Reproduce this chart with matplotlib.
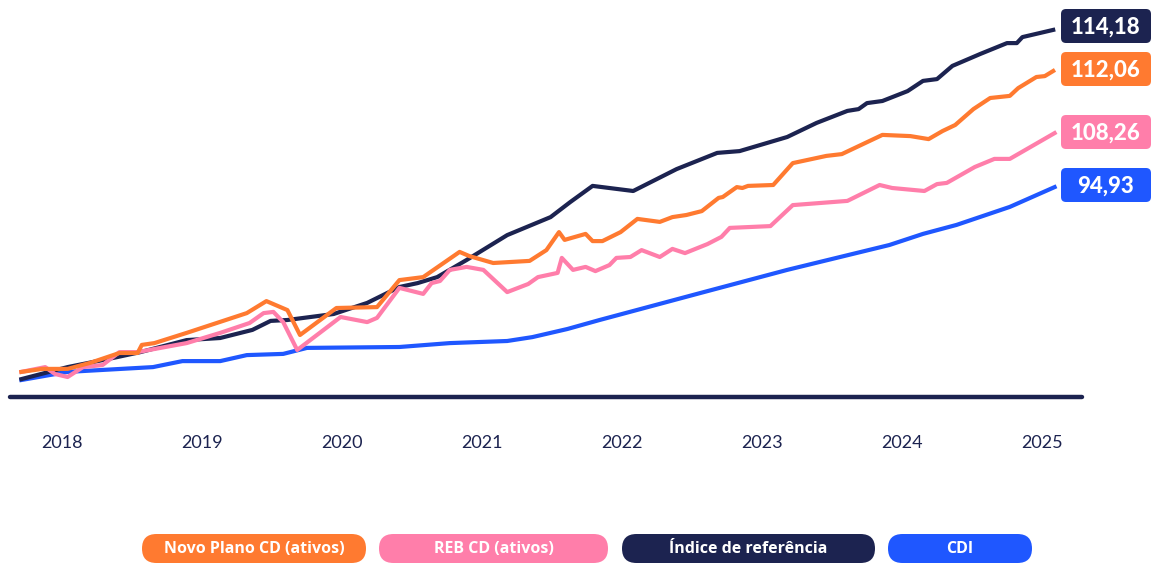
import matplotlib.pyplot as plt
from matplotlib.patches import FancyBboxPatch

# accumulated return (index)
ref_x = [2017.71, 2018.04, 2018.36, 2018.56, 2018.89, 2019.13, 2019.36, 2019.49, 2019.61, 2019.94,
         2020.18, 2020.41, 2020.54, 2020.68, 2020.89, 2021.18, 2021.49, 2021.63, 2021.79, 2022.08,
         2022.39, 2022.68, 2022.84, 2023.18, 2023.39, 2023.61, 2023.69, 2023.75, 2023.86, 2024.04,
         2024.15, 2024.25, 2024.36, 2024.56, 2024.75, 2024.82, 2024.86, 2025.08]
ref_y = [0.3, 4.3, 7.3, 9.3, 13.3, 14.0, 16.7, 19.7, 20.0, 22.0,
         25.7, 31.0, 32.3, 34.3, 40.0, 48.3, 54.3, 59.3, 64.7, 63.0,
         70.3, 75.7, 76.3, 81.0, 85.7, 89.7, 90.3, 92.3, 93.0, 96.3,
         99.7, 100.3, 104.7, 108.7, 112.3, 112.3, 114.3, 116.7]

novo_x = [2017.71, 2017.86, 2018.04, 2018.2, 2018.41, 2018.54, 2018.57, 2018.66, 2018.89, 2019.32,
          2019.46, 2019.61, 2019.7, 2019.96, 2020.25, 2020.41, 2020.58, 2020.84, 2020.91, 2021.08,
          2021.34, 2021.46, 2021.55, 2021.59, 2021.74, 2021.79, 2021.86, 2021.99, 2022.11, 2022.27,
          2022.36, 2022.46, 2022.57, 2022.69, 2022.72, 2022.82, 2022.86, 2022.9, 2023.08, 2023.22,
          2023.46, 2023.57, 2023.86, 2024.06, 2024.19, 2024.29, 2024.38, 2024.51, 2024.63, 2024.77,
          2024.83, 2024.96, 2025.02, 2025.08]
novo_y = [2.7, 3.7, 3.7, 5.7, 9.0, 9.0, 11.7, 12.3, 15.7, 22.3,
          26.3, 23.3, 15.0, 24.0, 24.3, 33.3, 34.3, 42.7, 41.3, 39.0,
          39.7, 43.3, 49.3, 46.7, 48.7, 46.3, 46.3, 49.3, 53.7, 52.7,
          54.3, 55.0, 56.3, 60.7, 61.0, 64.3, 64.0, 64.7, 65.0, 72.3,
          74.7, 75.3, 81.7, 81.3, 80.3, 83.0, 85.0, 90.3, 94.0, 94.7,
          97.3, 101.0, 101.3, 103.0]

reb_x = [2017.71, 2017.88, 2017.95, 2018.04, 2018.15, 2018.29, 2018.41, 2018.54, 2018.89, 2019.13,
         2019.34, 2019.44, 2019.51, 2019.58, 2019.68, 2019.99, 2020.18, 2020.25, 2020.41, 2020.58,
         2020.64, 2020.7, 2020.77, 2020.89, 2021.01, 2021.18, 2021.33, 2021.4, 2021.54, 2021.57,
         2021.65, 2021.74, 2021.81, 2021.91, 2021.96, 2022.06, 2022.14, 2022.27, 2022.36, 2022.45,
         2022.61, 2022.71, 2022.77, 2023.06, 2023.22, 2023.61, 2023.84, 2023.93, 2024.16, 2024.25,
         2024.32, 2024.52, 2024.66, 2024.77, 2025.09]
reb_y = [2.7, 4.3, 2.0, 1.0, 4.3, 5.0, 9.3, 9.3, 12.3, 15.7,
         19.0, 22.3, 22.7, 19.3, 10.0, 21.0, 19.3, 20.7, 30.7, 28.7,
         32.3, 33.0, 36.7, 37.7, 36.7, 29.3, 32.0, 34.3, 35.7, 40.7,
         36.7, 37.7, 36.3, 38.3, 40.7, 41.0, 43.3, 41.0, 43.7, 42.3,
         45.3, 47.7, 50.7, 51.3, 58.3, 59.7, 65.0, 64.0, 63.0, 65.3,
         65.7, 71.0, 73.7, 73.7, 82.3]

cdi_x = [2017.71, 2018.04, 2018.65, 2018.86, 2019.13, 2019.32, 2019.58, 2019.75, 2020.41, 2020.77,
         2021.18, 2021.36, 2021.61, 2021.84, 2022.56, 2023.18, 2023.91, 2024.15, 2024.39, 2024.77,
         2025.09]
cdi_y = [0.0, 2.7, 4.3, 6.3, 6.3, 8.3, 8.7, 10.7, 11.0, 12.3,
         13.0, 14.3, 17.0, 20.0, 29.0, 36.7, 45.0, 48.7, 51.7, 57.7,
         64.3]

years = [2018, 2019, 2020, 2021, 2022, 2023, 2024, 2025]
end_labels = ['114,18', '112,06', '108,26', '94,93']
legend_names = ['Novo Plano CD (ativos)', 'REB CD (ativos)', 'Índice de referência', 'CDI']

navy = '#1c2350'
orange = '#ff7a30'
pink = '#ff7eaa'
blue = '#1f57ff'

W, H = 1153, 564
fig = plt.figure(figsize=(W / 100, H / 100), dpi=100)
ax = fig.add_axes([0, 0, 1, 1])
ax.set_xlim(2018 - 62 / 140, 2018 + (W - 62) / 140)
ax.set_ylim((380 - H) / 3, 380 / 3)
ax.axis('off')

ax.plot(cdi_x, cdi_y, color=blue, lw=3, solid_joinstyle='round', zorder=2)
ax.plot(ref_x, ref_y, color=navy, lw=3, solid_joinstyle='round', zorder=3)
ax.plot(reb_x, reb_y, color=pink, lw=3, solid_joinstyle='round', zorder=4)
ax.plot(novo_x, novo_y, color=orange, lw=3, solid_joinstyle='round', zorder=5)

# baseline
ax.plot([2018 - 52 / 140, 2018 + 1020 / 140], [-17 / 3, -17 / 3], color=navy, lw=3.2,
        solid_capstyle='round', zorder=1)

for yr in years:
    ax.text(yr, -63 / 3, str(yr), ha='center', va='center', fontsize=13,
            color=navy, family='Lato')

# overlay in pixel coordinates for boxes
ov = fig.add_axes([0, 0, 1, 1])
ov.set_xlim(0, W)
ov.set_ylim(H, 0)
ov.axis('off')
ov.patch.set_alpha(0)

ends = [navy, orange, pink, blue]
box_y = [26, 69, 132, 185]
for c, lab, by in zip(ends, end_labels, box_y):
    ov.add_patch(FancyBboxPatch((1061, by - 17), 90, 34, boxstyle='round,pad=0,rounding_size=5',
                                fc=c, ec='none'))
    ov.text(1106, by + 1, lab, ha='center', va='center', fontsize=16, fontweight='black',
            color='white', family='Lato')

pills = [(142, 366, orange), (379, 608, pink), (622, 875, navy), (888, 1032, blue)]
for (x0, x1, c), name in zip(pills, legend_names):
    ov.add_patch(FancyBboxPatch((x0, 534), x1 - x0, 29, boxstyle='round,pad=0,rounding_size=14.5',
                                fc=c, ec='none'))
    ov.text((x0 + x1) / 2, 549, name, ha='center', va='center', fontsize=11.5,
            fontweight='bold', color='white', family='Open Sans')

fig.savefig('out.png', dpi=100)
